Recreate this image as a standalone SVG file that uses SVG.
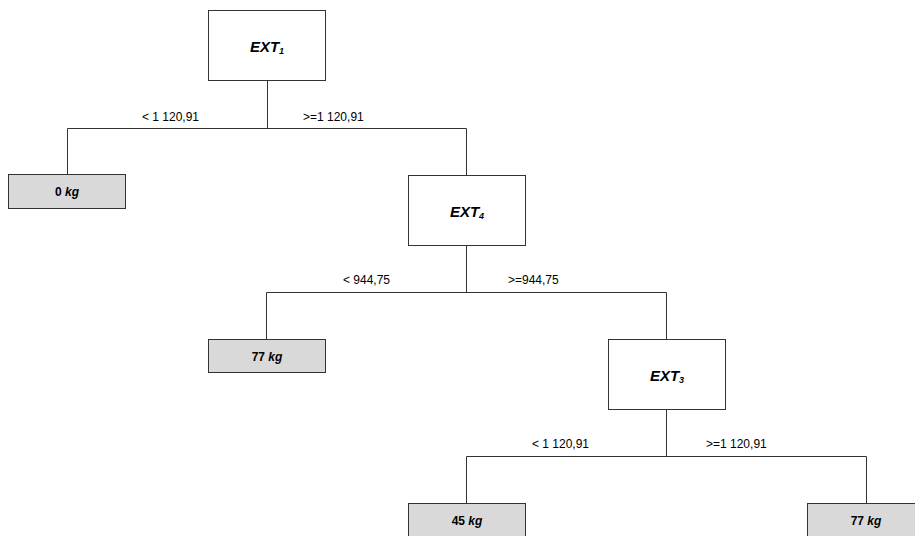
<svg xmlns="http://www.w3.org/2000/svg" width="915" height="536" viewBox="0 0 915 536">
<style>
.dec{fill:#ffffff;stroke:#333333;stroke-width:1}
.leaf{fill:#d9d9d9;stroke:#333333;stroke-width:1}
.conn{fill:none;stroke:#333333;stroke-width:1}
.nt{font-family:"Liberation Sans",Arial,sans-serif;font-size:15px;font-weight:bold;font-style:italic;fill:#000;text-anchor:middle}
.sub{font-size:9px}
.lt{font-family:"Liberation Sans",Arial,sans-serif;font-size:12px;font-weight:bold;fill:#000;text-anchor:middle}
.lab{font-family:"Liberation Sans",Arial,sans-serif;font-size:12px;fill:#000}
</style>
<rect width="915" height="536" fill="#ffffff"/>
<g id="connectors">
<path class="conn" d="M267.5 80.5V128.5M67.5 174.5V128.5H466.5V175.5"/>
<path class="conn" d="M466.5 245.5V292.5M266.5 339.5V292.5H666.5V339.5"/>
<path class="conn" d="M666.5 409.5V456.5M466.5 503.5V456.5H866.5V503.5"/>
<text class="lab" x="199" y="121" text-anchor="end">&lt; 1 120,91</text>
<text class="lab" x="303" y="121">&gt;=1 120,91</text>
<text class="lab" x="390" y="284" text-anchor="end">&lt; 944,75</text>
<text class="lab" x="508" y="284">&gt;=944,75</text>
<text class="lab" x="589" y="448" text-anchor="end">&lt; 1 120,91</text>
<text class="lab" x="706" y="448">&gt;=1 120,91</text>
</g>
<g id="node-ext1">
<rect class="dec" x="208.5" y="10.5" width="117" height="70"/>
<text class="nt" x="267" y="52">EXT<tspan class="sub" dy="2">1</tspan></text>
</g>
<g id="leaf-0kg">
<rect class="leaf" x="8.5" y="174.5" width="117" height="34"/>
<text class="lt" x="67" y="196">0 <tspan font-style="italic">kg</tspan></text>
</g>
<g id="node-ext4">
<rect class="dec" x="408.5" y="175.5" width="117" height="70"/>
<text class="nt" x="467" y="217">EXT<tspan class="sub" dy="2">4</tspan></text>
</g>
<g id="leaf-77kg-a">
<rect class="leaf" x="208.5" y="339.5" width="117" height="33"/>
<text class="lt" x="267" y="361">77 <tspan font-style="italic">kg</tspan></text>
</g>
<g id="node-ext3">
<rect class="dec" x="608.5" y="339.5" width="117" height="70"/>
<text class="nt" x="667" y="381">EXT<tspan class="sub" dy="2">3</tspan></text>
</g>
<g id="leaf-45kg">
<rect class="leaf" x="408.5" y="503.5" width="117" height="34"/>
<text class="lt" x="467" y="525">45 <tspan font-style="italic">kg</tspan></text>
</g>
<g id="leaf-77kg-b">
<rect class="leaf" x="807.5" y="503.5" width="117" height="34"/>
<text class="lt" x="866" y="525">77 <tspan font-style="italic">kg</tspan></text>
</g>
</svg>
